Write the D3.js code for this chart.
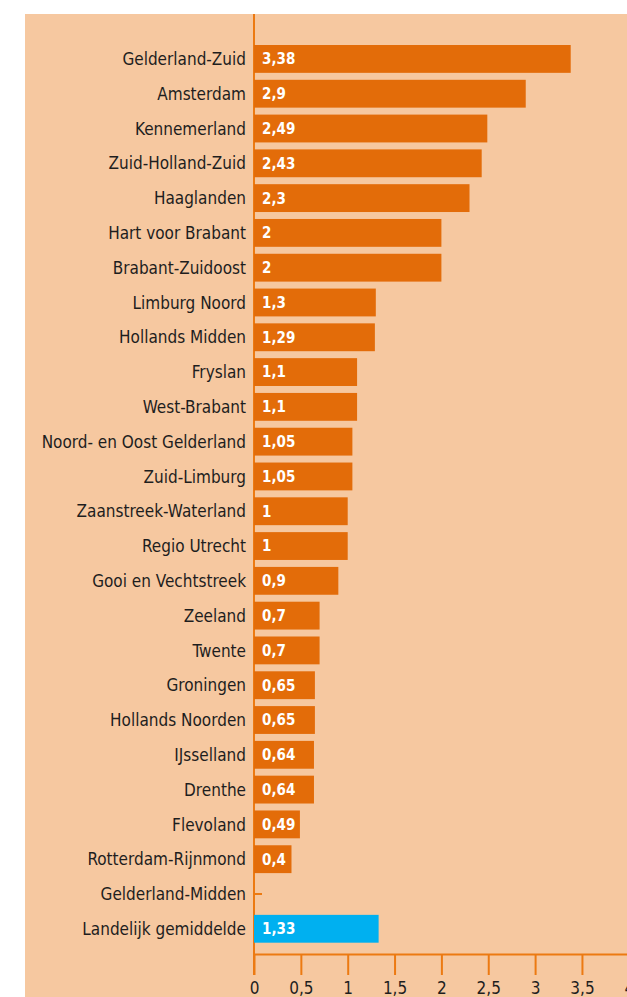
<!DOCTYPE html>
<html>
<head>
<meta charset="utf-8">
<script src="https://cdn.jsdelivr.net/npm/d3@7"></script>
<style>
  html, body { margin: 0; padding: 0; background: #ffffff; }
  svg { display: block; }
  .lbl { font-family: "DejaVu Sans Condensed", "DejaVu Sans", sans-serif; font-stretch: condensed; }
</style>
</head>
<body>
<div id="chart"></div>
<script>
// regio's, van boven naar beneden
var regions = [
  'Gelderland-Zuid', 'Amsterdam', 'Kennemerland', 'Zuid-Holland-Zuid', 'Haaglanden',
  'Hart voor Brabant', 'Brabant-Zuidoost', 'Limburg Noord', 'Hollands Midden', 'Fryslan',
  'West-Brabant', 'Noord- en Oost Gelderland', 'Zuid-Limburg', 'Zaanstreek-Waterland',
  'Regio Utrecht', 'Gooi en Vechtstreek', 'Zeeland', 'Twente', 'Groningen',
  'Hollands Noorden', 'IJsselland', 'Drenthe', 'Flevoland', 'Rotterdam-Rijnmond',
  'Gelderland-Midden', 'Landelijk gemiddelde'
];
var values = [
  3.38, 2.9, 2.49, 2.43, 2.3,
  2, 2, 1.3, 1.29, 1.1,
  1.1, 1.05, 1.05, 1,
  1, 0.9, 0.7, 0.7, 0.65,
  0.65, 0.64, 0.64, 0.49, 0.4,
  null, 1.33
];
var xTicks = [0, 0.5, 1, 1.5, 2, 2.5, 3, 3.5, 4];
var highlight = 'Landelijk gemiddelde';

var width = 627, height = 997;
var orange = '#e36c09', blue = '#00b0f0', axisColor = '#ec7a12';
var fmt = function(v) { return String(v).replace('.', ','); };

var svg = d3.select('#chart').append('svg')
  .attr('width', width)
  .attr('height', height);

// achtergrondvlak
svg.append('rect')
  .attr('x', 25)
  .attr('y', 14)
  .attr('width', width - 25)
  .attr('height', height - 14)
  .attr('fill', '#f6c8a0');

var x = d3.scaleLinear()
  .domain([0, 4])
  .range([254, 254 + 4 * 93.7]);

var y = d3.scaleBand()
  .domain(regions)
  .range([33.7, 954])
  .paddingInner(0.2)
  .paddingOuter(0.325);

var data = regions.map(function(r, i) { return { region: r, value: values[i] }; });

// y-as: lijn met korte tikjes naar rechts
var yAxis = svg.append('g')
  .attr('transform', 'translate(' + x(0) + ',0)')
  .call(d3.axisLeft(y).tickSize(-8).tickSizeOuter(0).tickPadding(8));
yAxis.select('.domain').remove();
yAxis.selectAll('.tick line')
  .attr('stroke', axisColor)
  .attr('stroke-width', 2);
yAxis.selectAll('.tick text')
  .attr('class', 'lbl')
  .attr('fill', '#1e1e1e')
  .style('font-size', '17px')
  .attr('dy', '0.36em');

svg.append('line')
  .attr('x1', x(0)).attr('x2', x(0))
  .attr('y1', 14).attr('y2', 975)
  .attr('stroke', axisColor)
  .attr('stroke-width', 2);

// staven
var bars = svg.append('g')
  .selectAll('rect')
  .data(data.filter(function(d) { return d.value != null; }))
  .join('rect')
  .attr('x', x(0))
  .attr('y', function(d) { return y(d.region); })
  .attr('width', function(d) { return x(d.value) - x(0); })
  .attr('height', y.bandwidth())
  .attr('fill', function(d) { return d.region === highlight ? blue : orange; });

// waarden in de staven
svg.append('g')
  .selectAll('text')
  .data(data.filter(function(d) { return d.value != null; }))
  .join('text')
  .attr('class', 'lbl')
  .attr('x', x(0) + 8)
  .attr('y', function(d) { return y(d.region) + y.bandwidth() / 2; })
  .attr('dy', '0.36em')
  .attr('fill', '#fff')
  .style('font-size', '15px')
  .style('font-weight', 'bold')
  .text(function(d) { return fmt(d.value); });

// x-as onderaan
var xAxis = svg.append('g')
  .attr('transform', 'translate(0,954)')
  .call(d3.axisBottom(x).tickValues(xTicks).tickSize(21).tickSizeOuter(0).tickPadding(7).tickFormat(fmt));
xAxis.select('.domain')
  .attr('stroke', axisColor)
  .attr('stroke-width', 2);
xAxis.selectAll('.tick line')
  .attr('stroke', axisColor)
  .attr('stroke-width', 2);
xAxis.selectAll('.tick text')
  .attr('class', 'lbl')
  .attr('fill', '#1e1e1e')
  .style('font-size', '17px');
xAxis.append('line')
  .attr('x1', x(4)).attr('x2', width)
  .attr('y1', 0).attr('y2', 0)
  .attr('stroke', axisColor)
  .attr('stroke-width', 2);
</script>
</body>
</html>
